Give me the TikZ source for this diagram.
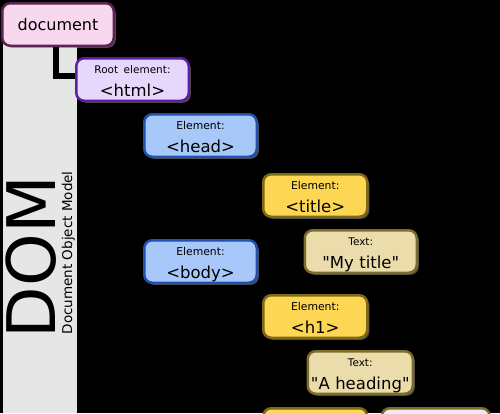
\documentclass[tikz,border=0pt]{standalone}
\usepackage{fontspec}
\setmainfont{DejaVu Sans}
\usepackage{xcolor}
\usetikzlibrary{positioning, shadows}

\definecolor{docfill}{HTML}{F8D8EE}
\definecolor{docline}{HTML}{5C2452}
\definecolor{rootfill}{HTML}{E6D8FC}
\definecolor{rootline}{HTML}{5A20A0}
\definecolor{blockfill}{HTML}{A8C8FA}
\definecolor{blockline}{HTML}{2050B4}
\definecolor{leaffill}{HTML}{FDD654}
\definecolor{leafline}{HTML}{7F6A14}
\definecolor{txtfill}{HTML}{EBDCAB}
\definecolor{txtline}{HTML}{7D6C2A}
\definecolor{attrfill}{HTML}{EFE8F0}
\definecolor{bandgray}{HTML}{E6E6E6}

\begin{document}
\begin{tikzpicture}[
        x=1pt, y=-1pt,
        box/.style={rectangle, rounded corners=8pt, draw, line width=2.5pt, minimum height=42.5pt, inner sep=0pt, drop shadow={shadow xshift=2pt, shadow yshift=-2pt, opacity=0.6}},
        elem/.style={box, align=center, text height=12pt, text depth=25pt, font=\fontsize{16.5}{23.5}\selectfont},
        docbox/.style={box, fill=docfill, draw=docline, minimum width=111.5pt, font=\fontsize{16}{19}\selectfont},
        rootbox/.style={elem, fill=rootfill, draw=rootline, minimum width=112.5pt, text width=112.5pt},
        blockbox/.style={elem, fill=blockfill, draw=blockline, minimum width=112.5pt, text width=112.5pt},
        leafbox/.style={elem, fill=leaffill, draw=leafline, minimum width=104pt, text width=104pt},
        txtbox/.style={elem, fill=txtfill, draw=txtline, minimum width=112pt, text width=112pt},
        attrbox/.style={elem, fill=attrfill, draw=txtline, minimum width=108pt, text width=108pt},
        tree/.style={line width=6pt, draw=black}
    ]

    % Page and side band
    \fill[black] (0,0) rectangle (500,413);
    \useasboundingbox (0,0) rectangle (500,413);
    \fill[bandgray] (3,10) rectangle (77,413);

    % Side titles
    \node[rotate=90, anchor=base west, inner sep=0pt, font=\fontsize{67}{80}\selectfont] (domtitle) at (55,338.5) {DOM};
    \node[rotate=90, anchor=base west, inner sep=0pt, font=\fontsize{13.5}{16}\selectfont] (domsub) at (72,334.5) {Document Object Model};

    % Root
    \node[docbox] (document) at (58,24.5) {document};
    \node[rootbox, below right=10pt and -40pt of document] (html) {{\fontsize{10.5}{23.5}\selectfont Root element:}\\<html>};

    % Head branch
    \node[blockbox, below right=11pt and -47pt of html] (head) {{\fontsize{10.8}{23.5}\selectfont Element:}\\<head>};
    \node[leafbox, below right=15pt and 4pt of head] (title) {{\fontsize{10.8}{23.5}\selectfont Element:}\\<title>};
    \node[txtbox, below right=11pt and -65pt of title] (mytitle) {{\fontsize{10.5}{23.5}\selectfont Text:}\\\textquotedbl My title\textquotedbl};

    % Body branch
    \node[blockbox, below=81pt of head] (body) {{\fontsize{10.8}{23.5}\selectfont Element:}\\<body>};
    \node[leafbox, below right=10pt and 4pt of body] (h1) {{\fontsize{10.8}{23.5}\selectfont Element:}\\<h1>};
    \node[txtbox, minimum width=105pt, text width=105pt, below right=11pt and -62pt of h1] (heading) {{\fontsize{10.5}{23.5}\selectfont Text:}\\\textquotedbl A heading\textquotedbl};
    \node[leafbox, below=68pt of h1] (nextelem) {};
    \node[attrbox, right=12pt of nextelem] (nextattr) {};

    % Visible link on the band
    \draw[tree] ([xshift=-2pt]document.south) |- ([yshift=3.5pt]html.west);

\end{tikzpicture}
\end{document}
